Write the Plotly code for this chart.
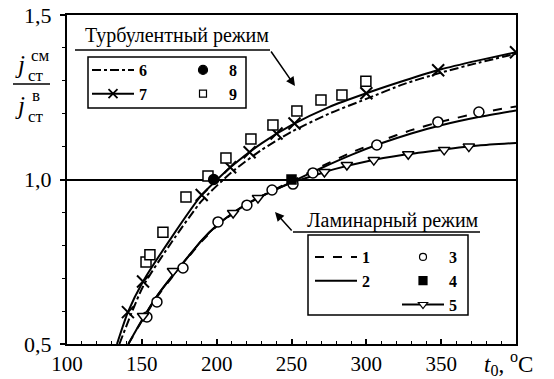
import plotly.graph_objects as go

# ---------------- data (t0 in deg C, ratio j_st^sm / j_st^v) ----------------
# Turbulent regime
t_c6 = [135, 150.8, 170, 190, 210, 230, 250, 275, 300, 325, 350, 375, 400]
r_c6 = [0.5, 0.675, 0.81, 0.935, 1.022, 1.09, 1.145, 1.2, 1.245, 1.29, 1.325, 1.355, 1.382]

t_c7 = [133.4, 140.7, 150.8, 170, 190, 210, 230, 250, 275, 300, 325, 350, 375, 400]
r_c7 = [0.5, 0.597, 0.69, 0.825, 0.953, 1.04, 1.11, 1.165, 1.22, 1.262, 1.30, 1.335, 1.362, 1.387]
t_x7 = [140.7, 150.8, 190, 209, 222, 240, 252, 300, 348, 400]
r_x7 = [0.597, 0.69, 0.953, 1.037, 1.083, 1.14, 1.17, 1.262, 1.332, 1.387]

t_p8 = [198]
r_p8 = [1.0]

t_p9 = [152.8, 155.4, 164.1, 179.5, 194.2, 206.2, 222.9, 237.6, 253.6, 269.7, 283.7, 299.7]
r_p9 = [0.749, 0.771, 0.840, 0.947, 1.011, 1.065, 1.123, 1.166, 1.208, 1.242, 1.257, 1.299]

# Laminar regime
t_c2 = [141, 150, 160, 170, 180, 190, 200, 210, 220, 235, 250, 270, 290, 310, 330, 350, 375, 400]
r_c2 = [0.5, 0.572, 0.645, 0.705, 0.76, 0.815, 0.86, 0.895, 0.925, 0.96, 0.992, 1.035, 1.075, 1.11, 1.14, 1.165, 1.19, 1.21]

t_c1 = [141, 150, 160, 170, 180, 190, 200, 210, 220, 235, 250, 270, 290, 310, 330, 350, 375, 400]
r_c1 = [0.5, 0.57, 0.642, 0.702, 0.758, 0.812, 0.858, 0.894, 0.925, 0.961, 0.995, 1.04, 1.082, 1.118, 1.15, 1.176, 1.202, 1.222]

t_c5 = [150, 160, 170, 180, 190, 200, 210, 220, 235, 250, 265, 280, 300, 325, 350, 375, 400]
r_c5 = [0.572, 0.645, 0.705, 0.76, 0.815, 0.86, 0.895, 0.925, 0.96, 0.99, 1.012, 1.033, 1.055, 1.075, 1.09, 1.103, 1.111]
t_v5 = [150.8, 170.8, 211, 227.6, 272, 287, 305, 328, 352, 368.5]
r_v5 = [0.585, 0.722, 0.898, 0.944, 1.023, 1.044, 1.059, 1.077, 1.09, 1.1]

t_p3 = [153.4, 160.1, 177.5, 200.9, 220.2, 237, 251, 264.3, 307, 347.8, 375.2]
r_p3 = [0.582, 0.628, 0.731, 0.871, 0.922, 0.968, 0.986, 1.02, 1.105, 1.175, 1.205]

t_p4 = [250]
r_p4 = [1.0]

x_ticks = [100, 150, 200, 250, 300, 350, 400]
x_ticktext = ["100", "150", "200", "250", "300", "350", ""]
x_title = "<i>t</i><sub>0</sub>,&nbsp;<sup>o</sup>C"
y_ticks = [0.5, 1.0, 1.5]

SERIF = "Liberation Serif"
BLK = "black"

# plot-area geometry helpers for decorations (pixel -> paper)
L, R, T, B = 67, 516, 15, 344
def pxx(v):
    return (v - L) / (R - L)
def pyy(v):
    return (B - v) / (B - T)

fig = go.Figure()

def line_tr(x, y, dash="solid"):
    fig.add_trace(go.Scatter(x=x, y=y, mode="lines", showlegend=False,
                             line=dict(color=BLK, width=2, dash=dash, shape="spline", smoothing=0.6),
                             hoverinfo="skip"))

def mark_tr(x, y, symbol, size, fill=BLK, lw=1.5):
    fig.add_trace(go.Scatter(x=x, y=y, mode="markers", showlegend=False,
                             marker=dict(symbol=symbol, size=size, color=fill,
                                         line=dict(color=BLK, width=lw))))

line_tr(t_c6, r_c6, "dashdot")
line_tr(t_c7, r_c7)
line_tr(t_c1, r_c1, "dash")
line_tr(t_c2, r_c2)
line_tr(t_c5, r_c5)

mark_tr(t_x7, r_x7, "x-thin", 12, lw=2)
mark_tr(t_p9, r_p9, "square", 10, fill="white")
mark_tr(t_p8, r_p8, "circle", 10)
mark_tr(t_p3, r_p3, "circle", 10, fill="white")
mark_tr(t_v5, r_v5, "triangle-down", 10, fill="white")
mark_tr(t_p4, r_p4, "square", 9)

# legend-only entries
def leg(name, legend, mode, dash="solid", symbol="circle", fill=BLK, size=7, lw=1.2):
    fig.add_trace(go.Scatter(x=[None], y=[None], mode=mode, name="<b>%s</b>" % name,
                             legend=legend,
                             line=dict(color=BLK, width=2, dash=dash),
                             marker=dict(symbol=symbol, size=size, color=fill,
                                         line=dict(color=BLK, width=lw))))

leg("6", "legend", "lines", dash="dashdot")
leg("7", "legend", "lines+markers", symbol="x-thin", size=9, lw=1.8)
leg("8", "legend2", "markers", symbol="circle", size=9)
leg("9", "legend2", "markers", symbol="square", fill="white", size=7)
leg("1", "legend3", "lines", dash="dash")
leg("2", "legend3", "lines")
leg("3", "legend4", "markers", symbol="circle", fill="white", size=7)
leg("4", "legend4", "markers", symbol="square", size=8)
leg("5", "legend4", "lines+markers", symbol="triangle-down", fill="white", size=8)

legfont = dict(family=SERIF, size=16, color=BLK)
common_leg = dict(font=legfont, bgcolor="rgba(0,0,0,0)", borderwidth=0, itemwidth=42,
                  xanchor="left", yanchor="top", tracegroupgap=0, traceorder="normal")

fig.update_layout(
    width=554, height=379,
    margin=dict(l=L, r=554 - R, t=T, b=379 - B),
    paper_bgcolor="white", plot_bgcolor="white",
    separators=",.",
    font=dict(family=SERIF, size=20, color=BLK),
    legend=dict(x=pxx(87), y=pyy(53), **common_leg),
    legend2=dict(x=pxx(177), y=pyy(53), **common_leg),
    legend3=dict(x=pxx(310), y=pyy(240), **common_leg),
    legend4=dict(x=pxx(397), y=pyy(240), **common_leg),
    xaxis=dict(range=[100, 400], tickvals=x_ticks, ticktext=x_ticktext, automargin=False,
               showline=True, linecolor=BLK, linewidth=2, mirror=True,
               ticks="inside", ticklen=5, tickwidth=1.5, tickcolor=BLK,
               minor=dict(dtick=10, ticks="inside", ticklen=3, tickwidth=1, tickcolor=BLK),
               showgrid=False, zeroline=False, tickfont=dict(family=SERIF, size=21)),
    yaxis=dict(range=[0.5, 1.5], tickvals=y_ticks, tickformat=".1f", automargin=False,
               showline=True, linecolor=BLK, linewidth=2, mirror=True,
               ticks="outside", ticklen=5, tickwidth=1.5, tickcolor=BLK, ticklabelstandoff=4,
               minor=dict(dtick=0.1, ticks="outside", ticklen=3, tickwidth=1, tickcolor=BLK, showgrid=False),
               showgrid=True, gridcolor=BLK, gridwidth=1.5, zeroline=False,
               tickfont=dict(family=SERIF, size=22)),
)

shapes = []
def pline(x0, y0, x1, y1, w=1.5):
    shapes.append(dict(type="line", xref="paper", yref="paper",
                       x0=pxx(x0), y0=pyy(y0), x1=pxx(x1), y1=pyy(y1),
                       line=dict(color=BLK, width=w)))
def prect(x0, y0, x1, y1):
    shapes.append(dict(type="rect", xref="paper", yref="paper",
                       x0=pxx(x0), y0=pyy(y0), x1=pxx(x1), y1=pyy(y1),
                       line=dict(color=BLK, width=1.5)))

prect(88, 57, 246, 108)
prect(308, 235, 468, 315)
pline(75, 50, 270, 50)
pline(293, 232, 480, 232)
pline(13, 84, 50, 84)
fig.update_layout(shapes=shapes)

ann = []
def ptext(x, y, text, size=20):
    ann.append(dict(xref="paper", yref="paper", x=pxx(x), y=pyy(y), text=text,
                    showarrow=False, xanchor="center", yanchor="middle",
                    font=dict(family=SERIF, size=size, color=BLK)))
def parrow(xt, yt, xs, ys):
    ann.append(dict(xref="paper", yref="paper", x=pxx(xt), y=pyy(yt), text="",
                    showarrow=True, ax=xs - xt, ay=ys - yt, arrowhead=2,
                    arrowsize=1.2, arrowwidth=1.5, arrowcolor=BLK, standoff=0, startstandoff=0))

ptext(177, 36, "Турбулентный режим", 20)
ptext(393, 221, "Ламинарный режим", 20)
parrow(295, 86, 270, 50)
parrow(275, 212, 293, 232)

# x-axis title in place of the last tick label
ptext(508, 363, x_title, 23)

# y-axis title as a fraction
ptext(20, 64, "<i>j</i>", 25)
ptext(40, 55, "см", 17)
ptext(36, 75, "ст", 17)
ptext(20, 106, "<i>j</i>", 25)
ptext(36, 95, "в", 17)
ptext(36, 116, "ст", 17)
fig.update_layout(annotations=ann)

fig.write_html("out.html")
